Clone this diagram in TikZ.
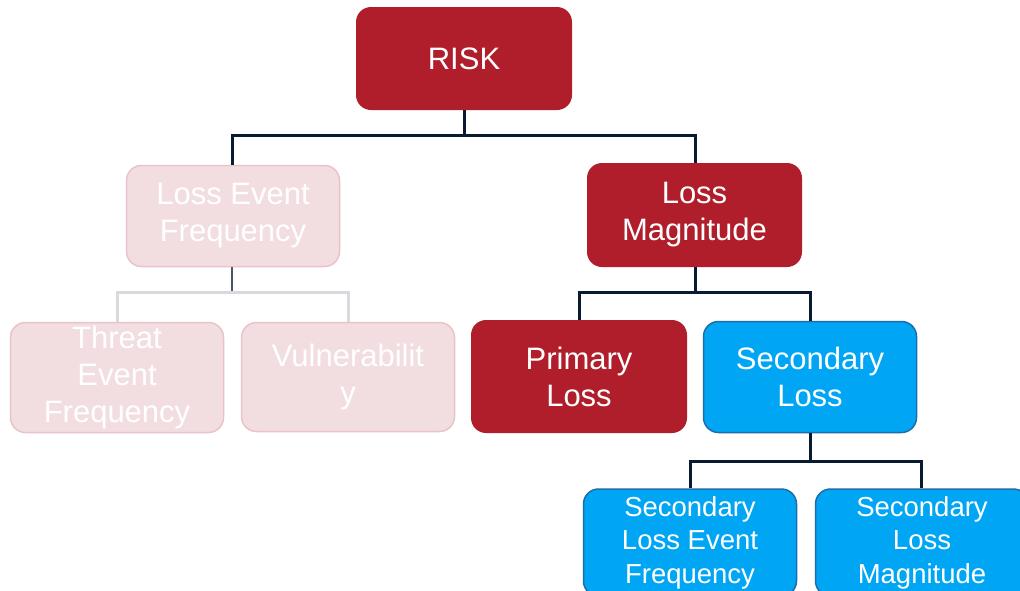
\documentclass[tikz,border=0pt]{standalone}
\usepackage{fontspec}
\setmainfont{Liberation Sans}
\definecolor{riskred}{HTML}{B11E2B}
\definecolor{fadefill}{HTML}{F2DEE1}
\definecolor{fadeedge}{HTML}{EAC3C8}
\definecolor{bluefill}{HTML}{00A6F4}
\definecolor{blueedge}{HTML}{1B6DAE}
\definecolor{navy}{HTML}{0B1A33}
\definecolor{lightgray}{HTML}{D8DADE}
\definecolor{fadenavy}{HTML}{4A5668}
\begin{document}
\begin{tikzpicture}[x=1pt,y=-1pt,
  box/.style={rounded corners=15pt, minimum width=215pt, minimum height=104pt, align=center, text=white, inner sep=0pt, font=\fontsize{31}{37}\selectfont},
  redbox/.style={box, fill=riskred},
  fadebox/.style={box, fill=fadefill, draw=fadeedge, line width=1.5pt},
  bluebox/.style={box, fill=bluefill, draw=blueedge, line width=1.5pt},
  smallbox/.style={font=\fontsize{27.5}{33.5}\selectfont},
  link/.style={draw=navy, line width=3pt},
  fadelink/.style={draw=lightgray, line width=3pt}]
\useasboundingbox (0,0) rectangle (1020,590);
\clip (0,0) rectangle (1020,590);
\fill[white] (0,0) rectangle (1020,590);

% connectors
\coordinate (j1) at (464,135);
\coordinate (j2) at (232,292);
\coordinate (j3) at (695,292);
\coordinate (j4) at (810,461);

\node[redbox, minimum width=216pt, minimum height=103pt] (risk) at (464,58.5) {RISK};
\node[fadebox, minimum width=213pt, minimum height=101pt] (lef) at (233,216) {Loss Event\\Frequency};
\node[redbox, minimum height=104pt] (lm) at (694.5,215) {Loss\\Magnitude};
\node[fadebox, minimum width=213pt, minimum height=110pt] (tef) at (117,377.5) {Threat\\Event\\Frequency};
\node[fadebox, minimum width=213pt, minimum height=109pt] (vul) at (348,377) {Vulnerabilit\\y};
\node[redbox, minimum width=216pt, minimum height=113pt] (pl) at (579,376.5) {Primary\\Loss};
\node[bluebox, minimum width=213pt, minimum height=111pt] (sl) at (810,377) {Secondary\\Loss};
\node[bluebox, smallbox, minimum width=213pt, minimum height=107pt] (slef) at (690,542.5) {Secondary\\Loss Event\\Frequency};
\node[bluebox, smallbox, minimum width=213pt, minimum height=107pt] (slm) at (922,542.5) {Secondary\\Loss\\Magnitude};

\begin{scope}[on background layer/.style={}]
\end{scope}

\draw[link] (risk.south) -- (j1);
\draw[link] (lef.north -| 232,0) |- (j1);
\draw[link] (lm.north -| 695,0) |- (j1);

\draw[fadenavy, line width=2pt] (lef.south -| 232,0) -- (j2);
\draw[fadelink] (tef.north) |- (j2);
\draw[fadelink] (vul.north) |- (j2);

\draw[link] (lm.south -| 695,0) -- (j3);
\draw[link] (pl.north) |- (j3);
\draw[link] (sl.north) |- (j3);

\draw[link] (sl.south) -- (j4);
\draw[link] (slef.north) |- (j4);
\draw[link] (slm.north -| 921,0) |- (j4);
\end{tikzpicture}
\end{document}
